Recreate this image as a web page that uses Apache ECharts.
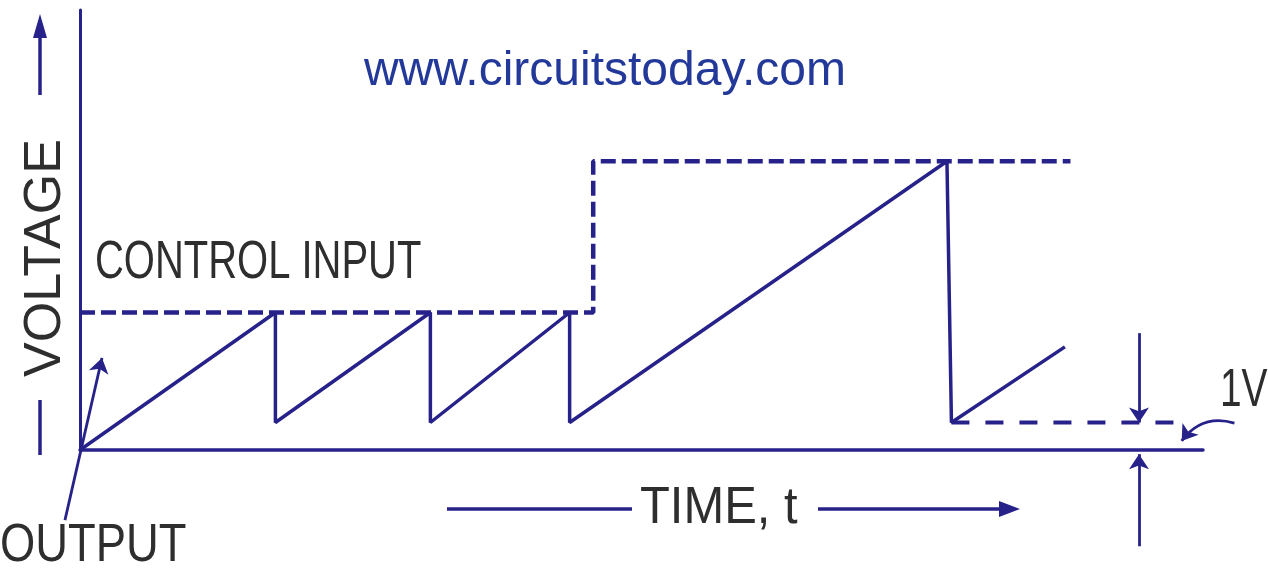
<!DOCTYPE html>
<html>
<head>
<meta charset="utf-8">
<script src="https://cdn.jsdelivr.net/npm/echarts@6/dist/echarts.min.js"></script>
<style>
  html, body { margin: 0; padding: 0; background: #fff; }
  #main { width: 1268px; height: 577px; }
</style>
</head>
<body>
<div id="main"></div>
<script>
// output sawtooth (time, volts)
const outputTime = [0, 17.4, 17.4, 31.2, 31.2, 43.6, 43.6, 77.2, 77.6, 87.7];
const outputVolt = [0, 5, 1, 5, 1, 5, 1, 10.5, 1, 3.75];
// control input step
const controlTime = [0, 45.7, 45.7, 88.2];
const controlVolt = [5, 5, 10.5, 10.5];
// 1V reference level
const refTime = [77.6, 98.4];
const refVolt = [1, 1];

const ink = "#27228a";
const textInk = "#2e2e2e";

function pairs(xs, ys) {
  return xs.map((x, i) => [x, ys[i]]);
}

const chart = echarts.init(document.getElementById("main"));

const option = {
  backgroundColor: "#fff",
  animation: false,
  title: {
    text: "www.circuitstoday.com",
    left: 359,
    top: 43,
    textStyle: {
      fontFamily: "Liberation Sans, Arial, sans-serif",
      fontSize: 48,
      fontWeight: "normal",
      color: "#22399a"
    }
  },
  grid: {
    left: 80,
    right: 65,
    top: 10,
    bottom: 127
  },
  xAxis: {
    type: "value",
    min: 0,
    max: 100,
    axisLine: { lineStyle: { color: ink, width: 3.5 } },
    axisTick: { show: false },
    axisLabel: { show: false },
    splitLine: { show: false }
  },
  yAxis: {
    type: "value",
    min: 0,
    max: 16,
    axisLine: { show: true, lineStyle: { color: ink, width: 3 } },
    axisTick: { show: false },
    axisLabel: { show: false },
    splitLine: { show: false }
  },
  series: [
    {
      name: "CONTROL INPUT",
      type: "line",
      data: pairs(controlTime, controlVolt),
      symbol: "none",
      lineStyle: { color: ink, width: 4.5, type: [15, 6] }
    },
    {
      name: "OUTPUT",
      type: "line",
      data: pairs(outputTime, outputVolt),
      symbol: "none",
      lineStyle: { color: ink, width: 3.5 }
    },
    {
      name: "1V level",
      type: "line",
      data: pairs(refTime, refVolt),
      symbol: "none",
      lineStyle: { color: ink, width: 4, type: [18, 16] }
    },
    {
      name: "annotations",
      type: "lines",
      coordinateSystem: "cartesian2d",
      clip: false,
      symbol: ["none", "arrow"],
      symbolSize: 15,
      lineStyle: { color: ink, width: 2.8, opacity: 1 },
      data: [
        { coords: [[-1.34, -2.55], [1.96, 3.35]] },
        { coords: [[94.3, 4.25], [94.3, 1]] },
        { coords: [[94.3, -3.5], [94.3, -0.15]] },
        { coords: [[102.8, 0.98], [98.1, 0.33]], lineStyle: { curveness: -0.35 } }
      ]
    }
  ],
  graphic: [
    {
      type: "text",
      left: 95, top: 236,
      scaleX: 0.74,
      style: { text: "CONTROL INPUT", fontFamily: "Liberation Sans, Arial, sans-serif", fontSize: 54, fill: textInk }
    },
    {
      type: "text",
      left: 0, top: 519,
      scaleX: 0.84,
      style: { text: "OUTPUT", fontFamily: "Liberation Sans, Arial, sans-serif", fontSize: 54, fill: textInk }
    },
    {
      type: "text",
      left: 640, top: 483,
      scaleX: 0.94,
      style: { text: "TIME, t", fontFamily: "Liberation Sans, Arial, sans-serif", fontSize: 52, fill: textInk }
    },
    {
      type: "text",
      left: 1220, top: 364,
      scaleX: 0.72,
      style: { text: "1V", fontFamily: "Liberation Sans, Arial, sans-serif", fontSize: 54, fill: textInk }
    },
    {
      type: "text",
      x: 20, y: 377,
      rotation: Math.PI / 2,
      style: { text: "VOLTAGE", fontFamily: "Liberation Sans, Arial, sans-serif", fontSize: 52, fill: textInk }
    },
    // voltage arrow above the label, dash below
    { type: "line", shape: { x1: 40, y1: 95, x2: 40, y2: 30 }, style: { stroke: ink, lineWidth: 3.5 } },
    { type: "polygon", shape: { points: [[40, 14], [33, 38], [47, 38]] }, style: { fill: ink } },
    { type: "line", shape: { x1: 40, y1: 400, x2: 40, y2: 455 }, style: { stroke: ink, lineWidth: 3.5 } },
    // time arrows
    { type: "line", shape: { x1: 447, y1: 509, x2: 632, y2: 509 }, style: { stroke: ink, lineWidth: 3.5 } },
    { type: "line", shape: { x1: 818, y1: 509, x2: 1005, y2: 509 }, style: { stroke: ink, lineWidth: 3.5 } },
    { type: "polygon", shape: { points: [[1020, 509], [999, 501], [999, 517]] }, style: { fill: ink } }
  ]
};

chart.setOption(option);
</script>
</body>
</html>
